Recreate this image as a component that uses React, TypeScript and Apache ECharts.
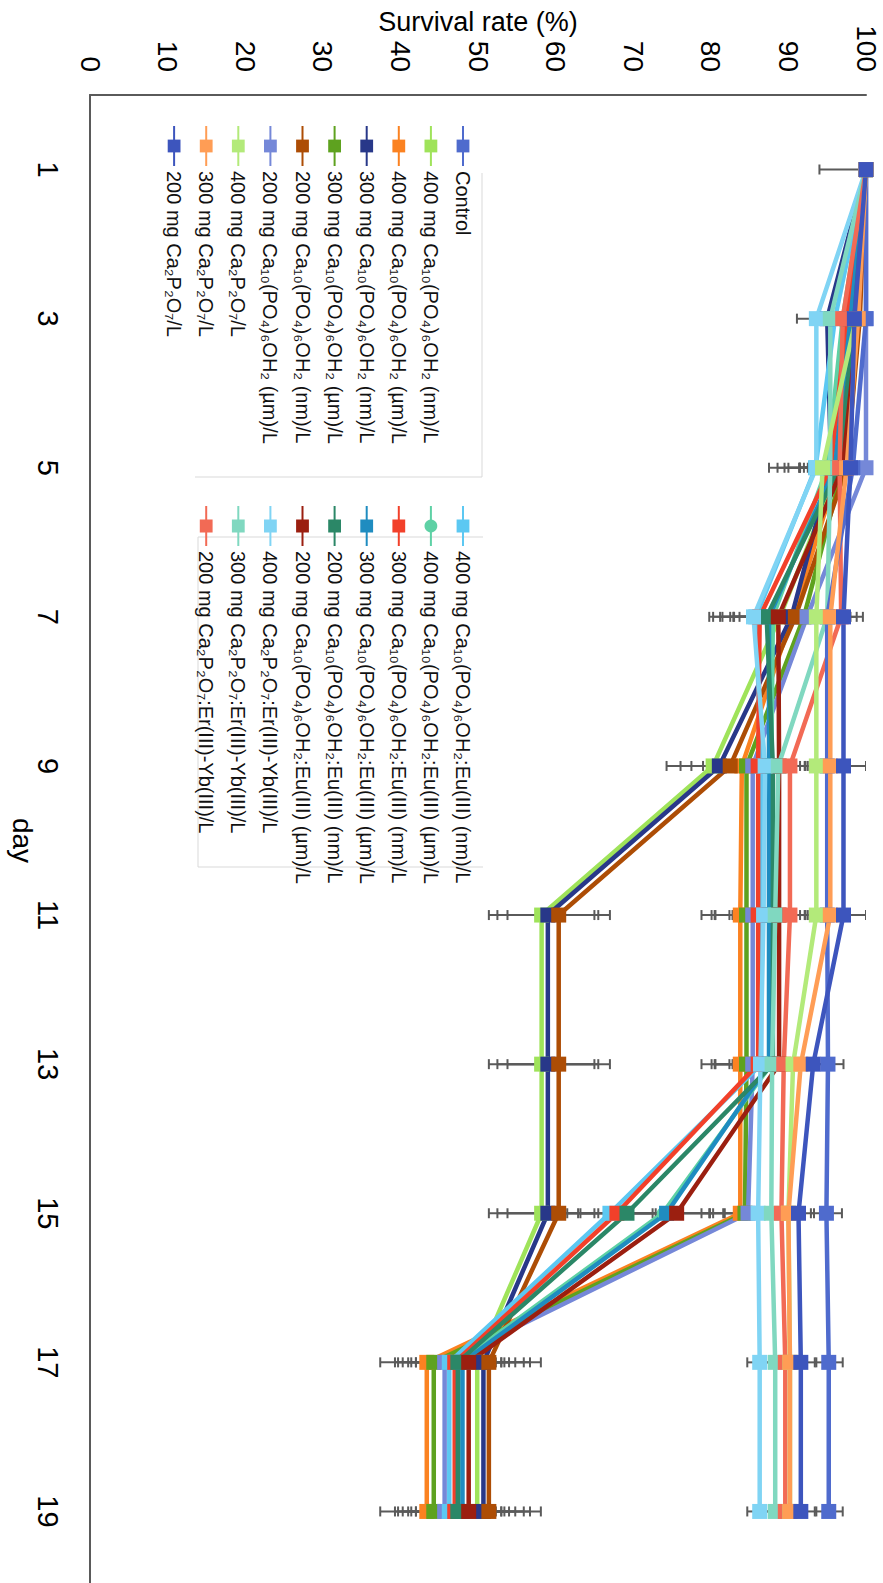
import React, { useEffect, useRef } from 'react';
import * as echarts from 'echarts';

const days = ['1', '3', '5', '7', '9', '11', '13', '15', '17', '19'];

const seriesNames = [
  'Control',
  '400 mg Ca₁₀(PO₄)₆OH₂ (nm)/L',
  '400 mg Ca₁₀(PO₄)₆OH₂ (µm)/L',
  '300 mg Ca₁₀(PO₄)₆OH₂ (nm)/L',
  '300 mg Ca₁₀(PO₄)₆OH₂ (µm)/L',
  '200 mg Ca₁₀(PO₄)₆OH₂ (nm)/L',
  '200 mg Ca₁₀(PO₄)₆OH₂ (µm)/L',
  '400 mg Ca₂P₂O₇/L',
  '300 mg Ca₂P₂O₇/L',
  '200 mg Ca₂P₂O₇/L',
  '400 mg Ca₁₀(PO₄)₆OH₂:Eu(III) (nm)/L',
  '400 mg Ca₁₀(PO₄)₆OH₂:Eu(III) (µm)/L',
  '300 mg Ca₁₀(PO₄)₆OH₂:Eu(III) (nm)/L',
  '300 mg Ca₁₀(PO₄)₆OH₂:Eu(III) (µm)/L',
  '200 mg Ca₁₀(PO₄)₆OH₂:Eu(III) (nm)/L',
  '200 mg Ca₁₀(PO₄)₆OH₂:Eu(III) (µm)/L',
  '400 mg Ca₂P₂O₇:Er(III)-Yb(III)/L',
  '300 mg Ca₂P₂O₇:Er(III)-Yb(III)/L',
  '200 mg Ca₂P₂O₇:Er(III)-Yb(III)/L',
];

const seriesColors = [
  '#4f6bcd', '#9fe35a', '#fb8221', '#283889', '#5ea21f', '#ad4d05', '#7588d8',
  '#b3ea7a', '#ff9d55', '#3d55bd',
  '#5cc8f2', '#5ed1a5', '#f2402a', '#1f8cc0', '#2b8767', '#9b1f10',
  '#80d4f4', '#80d8c0', '#f26a55',
];

const seriesSymbols = [
  'rect', 'rect', 'rect', 'rect', 'rect', 'rect', 'rect', 'rect', 'rect', 'rect',
  'rect', 'circle', 'rect', 'rect', 'rect', 'rect', 'rect', 'rect', 'rect',
];

// drawing order (later = on top), indexes into the lists above
const drawOrder = [1, 2, 3, 4, 5, 6, 10, 11, 12, 13, 14, 15, 16, 17, 18, 0, 7, 8, 9];

// survival rate (%) per day
const control = [100, 100, 98.3, 95, 95, 95, 95.1, 94.9, 95.2, 95.2];
const ha400nm = [100, 98.7, 96.5, 88.9, 80.3, 58.2, 58.2, 58.2, 49.9, 49.9];
const ha400um = [100, 97.5, 96.5, 90.5, 84.0, 83.8, 83.8, 83.8, 43.4, 43.4];
const ha300nm = [100, 95, 95.5, 90.4, 81.1, 59.0, 59.0, 59.0, 50.7, 50.7];
const ha300um = [100, 99, 97, 92, 84.6, 84.6, 84.6, 84.4, 44.3, 44.3];
const ha200nm = [100, 99.2, 97.5, 90.9, 82.5, 60.4, 60.4, 60.4, 51.4, 51.4];
const ha200um = [100, 100, 100, 92.4, 85.4, 85.4, 85.4, 84.8, 45.7, 45.7];
const cpp400 = [100, 98.7, 94.4, 93.6, 93.6, 93.6, 90.6, 90.0, 90.2, 90.2];
const cpp300 = [100, 99, 97.5, 95.4, 95.4, 95.4, 91.6, 90.0, 90.2, 90.2];
const cpp200 = [100, 98.5, 98.0, 97.1, 97.1, 97.1, 93.2, 91.3, 91.6, 91.6];
const eu400nm = [100, 96, 93.5, 85.8, 86.5, 86.5, 86.5, 67.0, 46.3, 46.3];
const eu400um = [100, 97, 95, 88, 87.8, 87.8, 87.8, 73.8, 47.5, 47.5];
const eu300nm = [100, 97.5, 95.5, 86.3, 86.1, 86.1, 86.1, 67.9, 47.0, 47.0];
const eu300um = [100, 98, 96, 87.5, 87.5, 87.5, 87.5, 74.3, 48.0, 48.0];
const eu200nm = [100, 98.5, 96.5, 87.2, 88.0, 88.0, 88.0, 69.2, 47.4, 47.4];
const eu200um = [100, 99, 97, 88.7, 88.8, 88.8, 88.8, 75.6, 48.8, 48.8];
const er400 = [100, 93.6, 93.6, 85.5, 87.0, 86.8, 86.4, 86.1, 86.3, 86.3];
const er300 = [100, 95.4, 95.4, 95.0, 88.7, 88.3, 87.9, 87.8, 88.3, 88.3];
const er200 = [100, 97, 96.6, 96.8, 90.2, 90.2, 89.4, 89.1, 89.6, 89.6];

// error bar half-widths (%) per day
const errControl = [6, 0, 3, 2, 2, 2, 2, 2, 1.8, 1.8];
const errHa400nm = [0, 2, 4, 6, 6, 6.8, 6.8, 6.8, 6, 6];
const errHa400um = [0, 2, 3, 4, 5, 5, 5, 5, 6, 6];
const errHa300nm = [0, 2, 4, 5, 5, 6.5, 6.5, 6.5, 6, 6];
const errHa300um = [0, 2, 3, 4, 4, 4, 4, 4.5, 5, 5];
const errHa200nm = [0, 2, 4, 5, 5, 6.6, 6.6, 6.6, 6.7, 6.7];
const errHa200um = [0, 0, 0, 3, 3, 3, 3, 3, 6, 6];
const errCpp400 = [0, 2, 3, 3, 0, 0, 1.5, 2, 2, 2];
const errCpp300 = [0, 2, 3, 2, 2, 2, 1.5, 2, 2, 2];
const errCpp200 = [0, 2, 2, 2.5, 2.9, 2.9, 2, 2, 2, 2];
const errEu400nm = [0, 3, 6, 6, 6, 6, 6, 5.5, 6, 6];
const errEu400um = [0, 2.5, 5, 5, 5, 5, 5, 6, 5.5, 5.5];
const errEu300nm = [0, 3, 6, 6, 6, 6, 6, 5, 6, 6];
const errEu300um = [0, 2, 4, 5, 4, 4, 4, 6, 6, 6];
const errEu200nm = [0, 2, 5, 6, 5, 5, 5, 6, 6, 6];
const errEu200um = [0, 2, 4, 5, 4, 4, 4, 6, 6, 6];
const errEr400 = [0, 2.5, 5, 4, 3, 3, 3, 2, 1.6, 1.6];
const errEr300 = [0, 2.5, 4, 3, 2, 2, 2, 2, 1.5, 1.5];
const errEr200 = [0, 2, 3, 2, 2, 2, 2, 2, 1.5, 1.5];

const seriesValues = [
  control, ha400nm, ha400um, ha300nm, ha300um, ha200nm, ha200um,
  cpp400, cpp300, cpp200,
  eu400nm, eu400um, eu300nm, eu300um, eu200nm, eu200um,
  er400, er300, er200,
];
const seriesErrors = [
  errControl, errHa400nm, errHa400um, errHa300nm, errHa300um, errHa200nm, errHa200um,
  errCpp400, errCpp300, errCpp200,
  errEu400nm, errEu400um, errEu300nm, errEu300um, errEu200nm, errEu200um,
  errEr400, errEr300, errEr200,
];

const FONT = 'Liberation Sans';

function buildOption() {
  const errData: number[][] = [];
  seriesValues.forEach((vals, s) => {
    vals.forEach((v, i) => {
      const e = seriesErrors[s][i];
      if (e > 0) errData.push([i, v - e, v + e]);
    });
  });

  const lineSeries = drawOrder.map((s) => ({
    type: 'line',
    name: seriesNames[s],
    data: seriesValues[s],
    symbol: seriesSymbols[s],
    symbolSize: seriesSymbols[s] === 'circle' ? 12 : 15,
    color: seriesColors[s],
    lineStyle: { width: 4.5, color: seriesColors[s] },
    itemStyle: { color: seriesColors[s] },
    clip: false,
    z: 3,
    emphasis: { disabled: true },
  }));

  const errStyle = { stroke: '#5a5a5a', lineWidth: 2 };
  const errSeries = {
    type: 'custom',
    name: 'error',
    data: errData,
    encode: { x: 0, y: [1, 2] },
    clip: true,
    z: 2,
    silent: true,
    renderItem: (params: any, api: any) => {
      const x = api.value(0);
      const p1 = api.coord([x, api.value(1)]);
      const p2 = api.coord([x, api.value(2)]);
      const c = 5;
      return {
        type: 'group',
        children: [
          { type: 'line', shape: { x1: p1[0], y1: p1[1], x2: p2[0], y2: p2[1] }, style: errStyle },
          { type: 'line', shape: { x1: p1[0] - c, y1: p1[1], x2: p1[0] + c, y2: p1[1] }, style: errStyle },
          { type: 'line', shape: { x1: p2[0] - c, y1: p2[1], x2: p2[0] + c, y2: p2[1] }, style: errStyle },
        ],
      };
    },
  };

  const legendCommon = {
    orient: 'vertical',
    top: 410,
    itemWidth: 40,
    itemHeight: 16,
    itemGap: 12.1,
    padding: 0,
    selectedMode: false,
    textStyle: { fontSize: 20, lineHeight: 16, color: '#111', fontFamily: FONT },
  };

  return {
    animation: false,
    backgroundColor: '#ffffff',
    textStyle: { fontFamily: FONT },
    grid: {
      left: 95,
      right: 14,
      top: 17,
      bottom: 90,
      containLabel: false,
      outerBoundsMode: 'none',
    },
    xAxis: {
      type: 'category',
      data: days,
      boundaryGap: true,
      name: 'day',
      nameLocation: 'middle',
      nameGap: 54,
      nameMoveOverlap: false,
      nameTextStyle: { fontSize: 28, color: '#000', fontFamily: FONT },
      axisLine: { show: true, lineStyle: { color: '#5a5a5a', width: 2 } },
      axisTick: { show: false },
      axisLabel: { fontSize: 29, color: '#000', margin: 28, interval: 0, fontFamily: FONT },
      splitLine: { show: false },
    },
    yAxis: {
      type: 'value',
      min: 0,
      max: 100,
      interval: 10,
      name: 'Survival rate (%)',
      nameLocation: 'middle',
      nameGap: 60,
      nameMoveOverlap: false,
      nameTextStyle: { fontSize: 27, color: '#000', fontFamily: FONT },
      axisLine: { show: true, lineStyle: { color: '#5a5a5a', width: 2 } },
      axisTick: { show: false },
      axisLabel: { fontSize: 28, color: '#000', margin: 23, fontFamily: FONT },
      splitLine: { show: false },
    },
    legend: [
      { ...legendCommon, left: 125, data: seriesNames.slice(0, 10) },
      { ...legendCommon, left: 505, data: seriesNames.slice(10) },
    ],
    graphic: [
      {
        type: 'polyline',
        shape: { points: [[173, 401], [477, 401], [477, 688]] },
        style: { stroke: '#d9d9d9', lineWidth: 1, fill: 'none' },
        silent: true,
      },
      {
        type: 'polyline',
        shape: { points: [[537, 400], [537, 685], [867, 685], [867, 400]] },
        style: { stroke: '#d9d9d9', lineWidth: 1, fill: 'none' },
        silent: true,
      },
    ],
    series: [errSeries, ...lineSeries],
  };
}

export default function App() {
  const ref = useRef<HTMLDivElement>(null);
  useEffect(() => {
    if (!ref.current) return;
    const chart = echarts.init(ref.current, null, { renderer: 'svg' });
    chart.setOption(buildOption() as any);
    return () => chart.dispose();
  }, []);
  return (
    <div
      style={{
        position: 'absolute',
        left: 0,
        top: 0,
        width: 883,
        height: 1583,
        overflow: 'hidden',
        background: '#ffffff',
      }}
    >
      <div
        ref={ref}
        style={{
          position: 'absolute',
          left: 0,
          top: 0,
          width: 1600,
          height: 883,
          transformOrigin: '0 0',
          transform: 'translate(883px, 0px) rotate(90deg)',
        }}
      />
    </div>
  );
}
